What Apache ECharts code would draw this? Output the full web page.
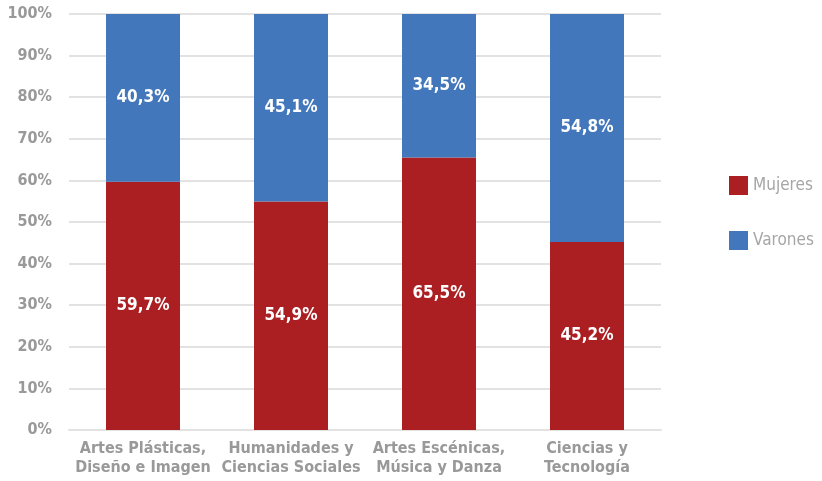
<!DOCTYPE html>
<html>
<head>
<meta charset="utf-8">
<script src="https://cdn.jsdelivr.net/npm/echarts@6/dist/echarts.min.js"></script>
<style>
  html, body { margin: 0; padding: 0; background: #fff; }
  #chart { width: 822px; height: 481px; }
</style>
</head>
<body>
<div id="chart"></div>
<script>
// categorias (dos lineas)
var categories = [
  'Artes Plásticas,\nDiseño e Imagen',
  'Humanidades y\nCiencias Sociales',
  'Artes Escénicas,\nMúsica y Danza',
  'Ciencias y\nTecnología'
]
var mujeres = [59.7, 54.9, 65.5, 45.2]
var varones = [40.3, 45.1, 34.5, 54.8]

var font = '"DejaVu Sans Condensed", "Liberation Sans Narrow", sans-serif'

var chart = echarts.init(document.getElementById('chart'))

function pct(p) {
  return p.value.toFixed(1).replace('.', ',') + '%'
}

chart.setOption({
  animation: false,
  grid: {
    left: 69,
    right: 161,
    top: 14,
    bottom: 51
  },
  legend: {
    orient: 'vertical',
    left: 724,
    top: 171,
    itemWidth: 19,
    itemHeight: 19,
    itemGap: 36,
    icon: 'rect',
    textStyle: {
      fontFamily: font,
      fontSize: 17,
      color: '#a6a6a6'
    },
    data: ['Mujeres', 'Varones']
  },
  xAxis: {
    type: 'category',
    data: categories,
    axisTick: { show: false },
    axisLine: { lineStyle: { color: '#e2e2e2', width: 2 } },
    axisLabel: {
      interval: 0,
      margin: 9,
      fontFamily: font,
      fontWeight: 'bold',
      fontSize: 16,
      lineHeight: 19,
      color: '#999999'
    }
  },
  yAxis: {
    type: 'value',
    min: 0,
    max: 100,
    interval: 10,
    axisLine: { show: false },
    axisTick: { show: false },
    splitLine: { lineStyle: { color: '#e2e2e2', width: 2 } },
    axisLabel: {
      formatter: '{value}%',
      margin: 17,
      fontFamily: font,
      fontWeight: 'bold',
      fontSize: 16,
      color: '#999999'
    }
  },
  series: [
    {
      name: 'Mujeres',
      type: 'bar',
      stack: 'total',
      barWidth: '50%',
      data: mujeres,
      itemStyle: { color: '#ab1f23' },
      label: {
        show: true,
        position: 'inside',
        formatter: pct,
        fontFamily: font,
        fontWeight: 'bold',
        fontSize: 17,
        color: '#ffffff'
      }
    },
    {
      name: 'Varones',
      type: 'bar',
      stack: 'total',
      barWidth: '50%',
      data: varones,
      itemStyle: { color: '#4377bb' },
      label: {
        show: true,
        position: 'inside',
        formatter: pct,
        fontFamily: font,
        fontWeight: 'bold',
        fontSize: 17,
        color: '#ffffff'
      }
    }
  ]
})
</script>
</body>
</html>
